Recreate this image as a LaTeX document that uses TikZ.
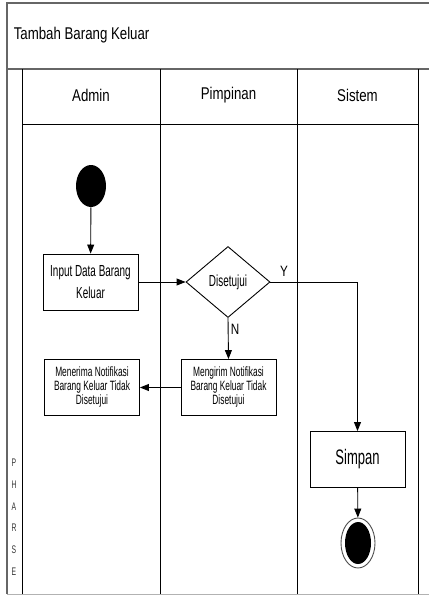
\documentclass[tikz,border=0pt]{standalone}
\usepackage{fontspec}
\setmainfont{Liberation Sans}
\newfontfamily\lanefont[FakeStretch=0.78]{Liberation Sans}
\newfontfamily\boxfont[FakeStretch=0.62]{Liberation Sans}
\usetikzlibrary{shapes.geometric,arrows.meta}

\begin{document}
\begin{tikzpicture}[x=1pt,y=-1pt,line width=0.9pt] % swimlane, ось y вниз
\tikzstyle{mystart} = [ellipse, fill, minimum width=30pt, minimum height=42pt, inner sep=0pt] % starting node style
\tikzstyle{myend} = [ellipse, draw=black!70, minimum width=34pt, minimum height=50pt, inner sep=0pt,
    path picture={\fill (path picture bounding box.center) ellipse (13pt and 21pt);}] % final node style
\tikzstyle{mybox} = [rectangle, draw, minimum width=95pt, minimum height=56pt, inner sep=1pt, align=center] % action node style
\tikzstyle{mydec} = [diamond, draw, minimum width=84pt, minimum height=71pt, inner sep=0pt] % decision node style
\tikzstyle{myarrow} = [-{Triangle[length=9pt,width=7pt]}]
\useasboundingbox (0,0) rectangle (429,597);

% рамка и дорожки
\draw[black!60, line width=1.4pt] (7,594) -- (7,3) -- (429,3);
\draw[black!60, line width=1.4pt] (7,69) -- (429,69);
\draw[black!30] (7,594) -- (429,594);
\draw (22,69) -- (22,594) (160,69) -- (160,594) (297,69) -- (297,594) (418,69) -- (418,594);
\draw (22,124) -- (418,124);
\node[anchor=west, font=\lanefont\fontsize{17}{20}\selectfont] (title) at (10,35) {Tambah Barang Keluar};
\node[font=\lanefont\fontsize{17}{20}\selectfont] (admin) at (91,95) {Admin};
\node[font=\lanefont\fontsize{17}{20}\selectfont] (pimpinan) at (228.5,95) {Pimpinan};
\node[font=\lanefont\fontsize{17}{20}\selectfont] (sistem) at (357.5,95) {Sistem};
\foreach \ch [count=\i] in {P,H,A,R,S,E}
    \node[font=\boxfont\fontsize{11}{12}\selectfont, text=black!80] (phase\i) at (14,441+21.8*\i) {\ch};

% узлы
\node[mystart] (start) at (91,186) {};
\node[mybox, font=\boxfont\fontsize{16}{22}\selectfont] (input) at (90.5,282) {Input Data Barang\\Keluar};
\node[mydec, font=\boxfont\fontsize{16}{20}\selectfont] (dec) at (228,282) {Disetujui};
\node[mybox, font=\boxfont\fontsize{13.5}{14}\selectfont] (kirim) at (228.5,387.5) {Mengirim Notifikasi\\Barang Keluar Tidak\\Disetujui};
\node[mybox, font=\boxfont\fontsize{13.5}{14}\selectfont] (terima) at (92,387.5) {Menerima Notifikasi\\Barang Keluar Tidak\\Disetujui};
\node[mybox, font=\boxfont\fontsize{21}{24}\selectfont] (simpan) at (357.5,459.5) {Simpan};
\node[myend] (end) at (358,543) {};

% переходы
\draw[myarrow] (start) -- (input);
\draw[myarrow] (input) -- (dec);
\draw[myarrow] (dec.east) -| (simpan.north);
\draw[myarrow] (dec.south) -- (kirim.north);
\draw[myarrow] (kirim) -- (terima);
\draw[myarrow] (simpan) -- (end);
\node[font=\lanefont\fontsize{15}{18}\selectfont] (ylabel) at (284,271) {Y};
\node[font=\lanefont\fontsize{15}{18}\selectfont] (nlabel) at (235,329) {N};
\end{tikzpicture}
\end{document}
